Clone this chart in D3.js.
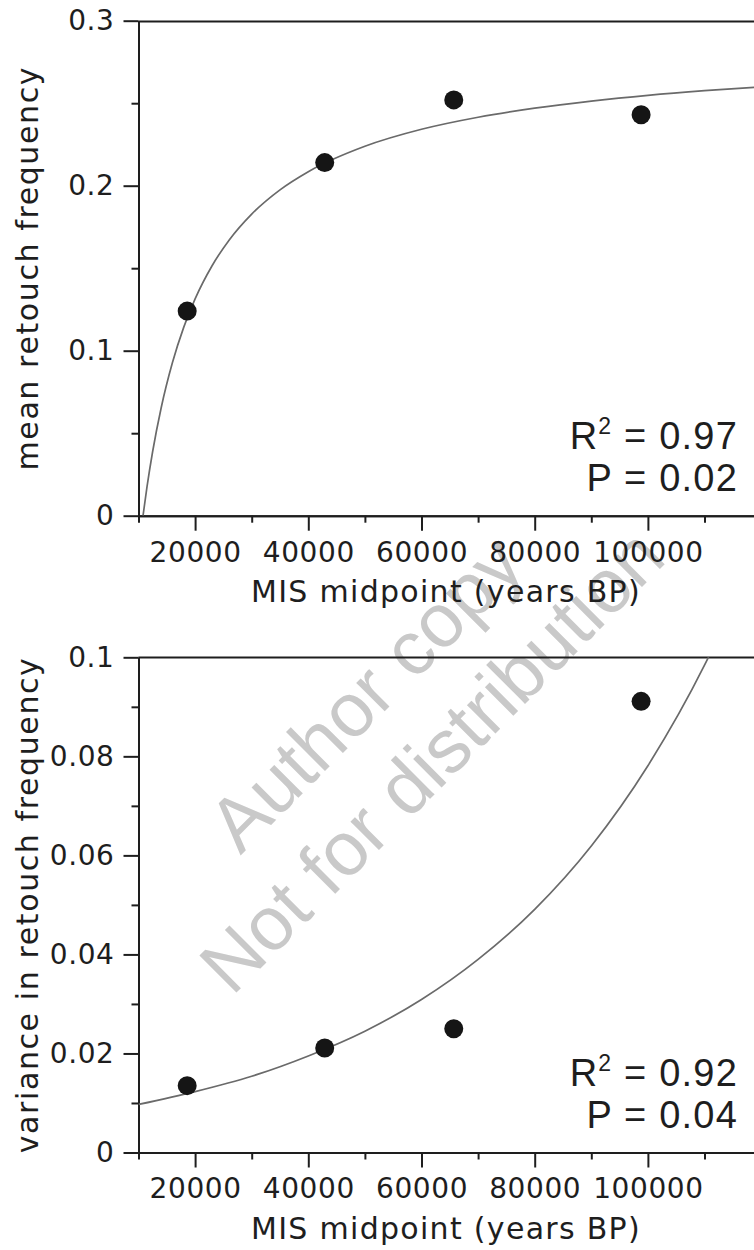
<!DOCTYPE html>
<html>
<head>
<meta charset="utf-8">
<script src="https://cdn.jsdelivr.net/npm/d3@7"></script>
<style>
  body { margin: 0; background: #fff; }
  svg { display: block; }
</style>
</head>
<body>
<svg id="chart"></svg>
<script>
// MIS midpoints (years BP), same four stages in both panels
const misMidpoint = [18600, 42900, 65700, 98800]

// top panel: mean retouch frequency
const meanRetouch = [0.124, 0.214, 0.252, 0.243]
const meanFitX = [10800, 11500, 12500, 14000, 16000, 18000, 20000, 23000, 26000, 30000, 35000, 40000,
                  50000, 60000, 70000, 80000, 90000, 100000, 110000, 120000, 125000]
const meanFitY = [0, 0.0174, 0.0389, 0.0653, 0.0928, 0.1143, 0.1314, 0.1515, 0.1670, 0.1828, 0.1975, 0.2085,
                  0.2239, 0.2342, 0.2415, 0.2470, 0.2513, 0.2548, 0.2576, 0.2599, 0.2609]
const meanTicks = [0, 0.1, 0.2, 0.3]
const meanTickLabels = ['0', '0.1', '0.2', '0.3']
const meanMinor = [0.05, 0.15, 0.25]
const meanStats = ['0.97', '0.02']

// bottom panel: variance in retouch frequency
const varRetouch = [0.0135, 0.0211, 0.0250, 0.0911]
const varFitX = [10000, 20000, 30000, 40000, 50000, 60000, 70000, 80000, 90000, 100000, 110000, 112000]
const varFitY = [0.0097, 0.0123, 0.0154, 0.0195, 0.0245, 0.0309, 0.0390, 0.0491, 0.0619, 0.0781, 0.0984, 0.1031]
const varTicks = [0, 0.02, 0.04, 0.06, 0.08, 0.1]
const varTickLabels = ['0', '0.02', '0.04', '0.06', '0.08', '0.1']
const varMinor = [0.01, 0.03, 0.05, 0.07, 0.09]
const varStats = ['0.92', '0.04']

// shared x axis
const xDomain = [10000, 125000]
const xTicks = [20000, 40000, 60000, 80000, 100000]
const xTickLabels = ['20000', '40000', '60000', '80000', '100000']
const xMinor = [10000, 30000, 50000, 70000, 90000, 110000]
const xTitle = 'MIS midpoint (years BP)'

const watermark = ['Author copy', 'Not for distribution']

const svg = d3.select('#chart').attr('width', 754).attr('height', 1250)
const INK = '#1e1e1e'
const LABEL_FONT = "'DejaVu Sans', sans-serif"
const STAT_FONT = "'Liberation Sans', Arial, sans-serif"

// watermark sits under the charts
svg.append('g').selectAll('text')
    .data(watermark)
    .enter().append('text')
    .attr('transform', (d, i) => i === 0 ? 'translate(384,712) rotate(-45)' : 'translate(450,779) rotate(-45)')
    .attr('text-anchor', 'middle')
    .attr('font-family', STAT_FONT)
    .attr('font-size', 76)
    .attr('fill', '#c9c9c9')
    .text(d => d)

function scatterPanel(settings) {

    let chart = {}

    chart.settings = {
        id: null,
        top: 0,
        bottom: 0,
        xs: null,
        ys: null,
        fitX: null,
        fitY: null,
        yDomain: null,
        yTicks: null,
        yTickLabels: null,
        yMinor: null,
        yTitle: '',
        stats: null
    }
    for (var setting in settings) {
        chart.settings[setting] = settings[setting]
    }
    const s = chart.settings

    chart.left = 138.5
    chart.x = d3.scaleLinear()
        .domain(xDomain)
        .range([chart.left, chart.left + (xDomain[1] - xDomain[0]) * 0.00566])
    chart.y = d3.scaleLinear()
        .domain(s.yDomain)
        .range([s.bottom, s.top])

    chart.g = svg.append('g')

    svg.append('clipPath').attr('id', `clip-${s.id}`)
        .append('rect')
        .attr('x', chart.left)
        .attr('y', s.top)
        .attr('width', chart.x.range()[1] - chart.left)
        .attr('height', s.bottom - s.top)

    function styleAxis(g) {
        g.attr('font-family', LABEL_FONT)
        g.selectAll('path, line').attr('stroke', INK).attr('stroke-width', 2)
        g.selectAll('text').attr('fill', INK).attr('font-size', 28).attr('letter-spacing', 0.6)
    }

    // minor ticks first
    chart.g.append('g')
        .attr('transform', `translate(0,${s.bottom})`)
        .call(d3.axisBottom(chart.x).tickValues(xMinor).tickSize(7).tickSizeOuter(0).tickFormat(''))
        .call(styleAxis)
    chart.g.append('g')
        .attr('transform', `translate(${chart.left},0)`)
        .call(d3.axisLeft(chart.y).tickValues(s.yMinor).tickSize(7).tickSizeOuter(0).tickFormat(''))
        .call(styleAxis)

    // major ticks + labels
    chart.g.append('g')
        .attr('transform', `translate(0,${s.bottom})`)
        .call(d3.axisBottom(chart.x).tickValues(xTicks).tickSize(15).tickSizeOuter(0)
            .tickPadding(11).tickFormat((d, i) => xTickLabels[i]))
        .call(styleAxis)
    chart.g.append('g')
        .attr('transform', `translate(${chart.left},0)`)
        .call(d3.axisLeft(chart.y).tickValues(s.yTicks).tickSize(15).tickSizeOuter(0)
            .tickPadding(9).tickFormat((d, i) => s.yTickLabels[i]))
        .call(styleAxis)

    // top frame line
    chart.g.append('line')
        .attr('x1', chart.left).attr('x2', chart.x.range()[1])
        .attr('y1', Math.round(s.top) + 0.5).attr('y2', Math.round(s.top) + 0.5)
        .attr('stroke', INK).attr('stroke-width', 2)

    // titles
    chart.g.append('text')
        .attr('x', 446)
        .attr('y', s.bottom + 86)
        .attr('text-anchor', 'middle')
        .attr('font-family', LABEL_FONT)
        .attr('font-size', 30)
        .attr('letter-spacing', 1.3)
        .attr('fill', INK)
        .text(xTitle)
    chart.g.append('text')
        .attr('transform', `translate(38,${(s.top + s.bottom) / 2}) rotate(-90)`)
        .attr('text-anchor', 'middle')
        .attr('font-family', LABEL_FONT)
        .attr('font-size', 30)
        .attr('letter-spacing', 1.6)
        .attr('fill', INK)
        .text(s.yTitle)

    // fitted curve
    const line = d3.line()
        .x(d => chart.x(d[0]))
        .y(d => chart.y(d[1]))
        .curve(d3.curveMonotoneX)
    chart.g.append('path')
        .attr('clip-path', `url(#clip-${s.id})`)
        .attr('fill', 'none')
        .attr('stroke', '#6a6a6a')
        .attr('stroke-width', 1.7)
        .attr('d', line(s.fitX.map((d, i) => [d, s.fitY[i]])))

    // points
    chart.g.append('g').selectAll('circle')
        .data(s.xs.map((d, i) => [d, s.ys[i]]))
        .enter().append('circle')
        .attr('cx', d => chart.x(d[0]))
        .attr('cy', d => chart.y(d[1]))
        .attr('r', 9.5)
        .attr('fill', '#151515')

    // R^2 / P annotation
    const stat = chart.g.append('g')
        .attr('font-family', STAT_FONT)
        .attr('font-size', 38)
        .attr('fill', INK)
        .attr('text-anchor', 'end')
        .style('white-space', 'pre')
    const r2 = stat.append('text').attr('x', 738).attr('y', s.bottom - 67).attr('letter-spacing', 1.2)
    r2.append('tspan').text('R')
    r2.append('tspan').attr('font-size', 23).attr('dy', -15).text('2')
    r2.append('tspan').attr('dy', 15).text(` = ${s.stats[0]}`)
    stat.append('text').attr('x', 738).attr('y', s.bottom - 25).attr('letter-spacing', 1.2)
        .text(`P = ${s.stats[1]}`)

    return chart
}

scatterPanel({
    id: 'mean',
    top: 20.7,
    bottom: 515.7,
    xs: misMidpoint,
    ys: meanRetouch,
    fitX: meanFitX,
    fitY: meanFitY,
    yDomain: [0, 0.3],
    yTicks: meanTicks,
    yTickLabels: meanTickLabels,
    yMinor: meanMinor,
    yTitle: 'mean retouch frequency',
    stats: meanStats
})

scatterPanel({
    id: 'var',
    top: 657.3,
    bottom: 1152.5,
    xs: misMidpoint,
    ys: varRetouch,
    fitX: varFitX,
    fitY: varFitY,
    yDomain: [0, 0.1],
    yTicks: varTicks,
    yTickLabels: varTickLabels,
    yMinor: varMinor,
    yTitle: 'variance in retouch frequency',
    stats: varStats
})
</script>
</body>
</html>
